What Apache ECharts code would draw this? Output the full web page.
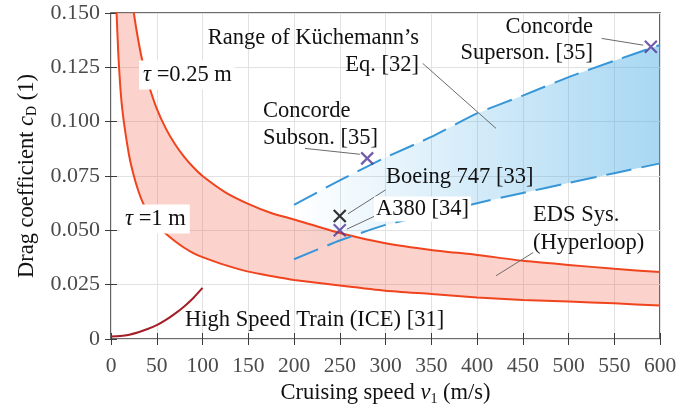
<!DOCTYPE html>
<html>
<head>
<meta charset="utf-8">
<script src="https://cdn.jsdelivr.net/npm/echarts@6/dist/echarts.min.js"></script>
<style>html,body{margin:0;padding:0;background:#fff}#c{width:697px;height:412px}</style>
</head>
<body>
<div id="c"></div>
<script>
// ---- data ----
var vRed = [5, 6, 8, 10, 12, 15, 20, 25, 30, 35, 40, 50, 60, 70, 80, 90, 100, 125, 150, 175, 200, 250, 300, 350, 400, 450, 500, 550, 600];
var edsUpper = [0.335, 0.306, 0.265, 0.237, 0.216, 0.194, 0.168, 0.150, 0.137, 0.1265, 0.1185, 0.106, 0.0968, 0.0896, 0.0838, 0.079, 0.075, 0.0675, 0.0622, 0.0580, 0.0550, 0.0488, 0.0441, 0.0410, 0.0387, 0.0360, 0.0341, 0.0323, 0.0308];
var edsLower = [0.165, 0.151, 0.131, 0.117, 0.107, 0.097, 0.084, 0.075, 0.068, 0.0625, 0.0585, 0.0525, 0.0484, 0.0450, 0.0420, 0.0395, 0.0377, 0.0340, 0.0310, 0.0290, 0.0272, 0.0246, 0.0222, 0.0207, 0.0191, 0.0180, 0.0172, 0.0164, 0.0154];

var vBlue = [200, 250, 300, 350, 400, 450, 500, 550, 600];
var kuechUpper = [0.0617, 0.0730, 0.0835, 0.0930, 0.1038, 0.1120, 0.1205, 0.1280, 0.1353];
var kuechLower = [0.0367, 0.0453, 0.0525, 0.0573, 0.0625, 0.0672, 0.0718, 0.0763, 0.0808];

var vIce = [0, 10, 20, 30, 40, 50, 60, 70, 80, 90, 100];
var iceCd = [0.0012, 0.0014, 0.0020, 0.0031, 0.0046, 0.0064, 0.0088, 0.0117, 0.0150, 0.0189, 0.0235];

var purplePts = [[250, 0.050], [280, 0.0831], [590, 0.1345]];
var blackPts = [[250, 0.0566]];

var leaders = [
  [[212, 0.0877], [272, 0.0850]],
  [[300, 0.0686], [259, 0.0576]],
  [[288.5, 0.0566], [257.6, 0.0505]],
  [[340.7, 0.1268], [420.8, 0.0969]],
  [[536.3, 0.1383], [581.7, 0.1352]],
  [[461.5, 0.0398], [420.8, 0.0291]]
];

var xTickLabels = ['0','50','100','150','200','250','300','350','400','450','500','550','600'];
var yTickLabels = ['0','0.025','0.050','0.075','0.100','0.125','0.150'];

// ---- helpers ----
function pairs(xs, ys) { return xs.map(function (x, i) { return [x, ys[i]]; }); }

var FONT = 'Liberation Serif';
var RED = '#f0441e';
var BLUE = '#3796d7';
var crossPath = 'path://M0,0L10,10M10,0L0,10';

var chart = echarts.init(document.getElementById('c'), null, {renderer: 'canvas'});

var tickStyle = {inside: true, length: 6, lineStyle: {color: '#3c3c3c', width: 1}};

function bandRenderer(xs, hi, lo, fill) {
  return function (params, api) {
    var pts = [], i;
    for (i = 0; i < xs.length; i++) pts.push(api.coord([xs[i], hi[i]]));
    for (i = xs.length - 1; i >= 0; i--) pts.push(api.coord([xs[i], lo[i]]));
    return {type: 'polygon', shape: {points: pts}, style: {fill: fill}};
  };
}

function txt(text, x, y, align, extra) {
  var st = {text: text, x: 0, y: 0, font: '22.5px "' + FONT + '"', fill: '#111',
    align: align, textAlign: align, verticalAlign: 'middle', textVerticalAlign: 'middle',
    rich: {i: {fontStyle: 'italic', fontSize: 22.5, fontFamily: FONT, fill: '#111'}}};
  if (extra) for (var k in extra) st[k] = extra[k];
  return {type: 'text', x: x, y: y, z: 100, style: st};
}

var nameRich = {
  i: {fontStyle: 'italic', fontFamily: FONT, fontSize: 22.5, color: '#111'},
  s: {fontFamily: FONT, fontSize: 14, color: '#111', padding: [11, 0, 0, 0]}
};

var option = {
  animation: false,
  grid: {left: 111, right: 37, top: 13, bottom: 73, show: true, borderColor: '#3c3c3c', borderWidth: 1.6, backgroundColor: 'transparent'},
  xAxis: [{
    type: 'value', min: 0, max: 600, interval: 50,
    axisLine: {show: false}, axisTick: tickStyle,
    splitLine: {show: true, lineStyle: {color: '#e2e2e2', width: 1}},
    axisLabel: {color: '#4a4a4a', fontFamily: FONT, fontSize: 21.5, margin: 16,
      formatter: function (v) { return xTickLabels[Math.round(v / 50)]; }},
    name: 'Cruising speed {i|v}{s|1} (m/s)', nameLocation: 'middle', nameGap: 42,
    nameTextStyle: {color: '#111', fontFamily: FONT, fontSize: 22.5, rich: nameRich}
  }, {
    type: 'value', min: 0, max: 600, interval: 50, position: 'top',
    axisLine: {show: false}, axisTick: tickStyle, axisLabel: {show: false}, splitLine: {show: false}
  }],
  yAxis: [{
    type: 'value', min: 0, max: 0.15, interval: 0.025,
    axisLine: {show: false}, axisTick: tickStyle,
    splitLine: {show: true, lineStyle: {color: '#e2e2e2', width: 1}},
    axisLabel: {color: '#4a4a4a', fontFamily: FONT, fontSize: 22, margin: 11,
      formatter: function (v) { return yTickLabels[Math.round(v / 0.025)]; }},
    name: 'Drag coefficient {i|c}{s|D} (1)', nameLocation: 'middle', nameGap: 67,
    nameTextStyle: {color: '#111', fontFamily: FONT, fontSize: 22.5, rich: nameRich}
  }, {
    type: 'value', min: 0, max: 0.15, interval: 0.025, position: 'right',
    axisLine: {show: false}, axisTick: tickStyle, axisLabel: {show: false}, splitLine: {show: false}
  }],
  series: [
    {type: 'custom', clip: true, silent: true, z: 1, data: [[vRed[0], edsUpper[0]]],
      renderItem: bandRenderer(vRed, edsUpper, edsLower, 'rgba(245,80,50,0.25)')},
    {type: 'custom', clip: true, silent: true, z: 1, data: [[vBlue[0], kuechUpper[0]]],
      renderItem: bandRenderer(vBlue, kuechUpper, kuechLower,
        new echarts.graphic.LinearGradient(0, 0, 1, 0, [
          {offset: 0, color: 'rgba(71,171,229,0.0)'}, {offset: 1, color: 'rgba(71,171,229,0.47)'}]))},

    {type: 'line', data: pairs(vRed, edsUpper), symbol: 'none', smooth: 0.2,
      lineStyle: {color: RED, width: 2}, z: 3},
    {type: 'line', data: pairs(vRed, edsLower), symbol: 'none', smooth: 0.2,
      lineStyle: {color: RED, width: 2}, z: 3},
    {type: 'line', data: pairs(vBlue, kuechUpper), symbol: 'none', smooth: 0.2,
      lineStyle: {color: BLUE, width: 2, type: [26, 10]}, z: 3},
    {type: 'line', data: pairs(vBlue, kuechLower), symbol: 'none', smooth: 0.2,
      lineStyle: {color: BLUE, width: 2, type: [26, 10]}, z: 3},
    {type: 'line', data: pairs(vIce, iceCd), symbol: 'none', smooth: 0.3,
      lineStyle: {color: '#a51d26', width: 2}, z: 3},

    {type: 'lines', coordinateSystem: 'cartesian2d', polyline: false, silent: true, z: 4,
      lineStyle: {color: '#6a6a6a', width: 1, opacity: 1},
      data: leaders.map(function (c) { return {coords: c}; })},

    {type: 'scatter', data: purplePts, symbol: crossPath, symbolSize: 12, z: 5,
      itemStyle: {color: 'rgba(0,0,0,0)', borderColor: '#4f3396', borderWidth: 2.2}},
    {type: 'scatter', data: blackPts, symbol: crossPath, symbolSize: 12, z: 5,
      itemStyle: {color: 'rgba(0,0,0,0)', borderColor: '#000', borderWidth: 2.2}}
  ],
  graphic: [
    txt('Range of Küchemann’s', 419, 38, 'right'),
    txt('Eq. [32]', 419, 65, 'right'),
    txt('Concorde', 593, 27, 'right'),
    txt('Superson. [35]', 593, 53, 'right'),
    txt('Concorde', 263, 111, 'left'),
    txt('Subson. [35]', 263, 138, 'left'),
    txt('Boeing 747 [33]', 386, 177, 'left'),
    txt('A380 [34]', 374, 209, 'left', {backgroundColor: '#fff', padding: [1, 2, 1, 2]}),
    txt('{i|τ} =0.25 m', 139, 75, 'left', {backgroundColor: '#fff', padding: [3, 3, 3, 4]}),
    txt('{i|τ} =1 m', 120, 219, 'left', {backgroundColor: '#fff', padding: [3, 4, 3, 5]}),
    txt('High Speed Train (ICE) [31]', 185, 320, 'left'),
    txt('EDS Sys.', 533, 215, 'left'),
    txt('(Hyperloop)', 533, 243, 'left')
  ]
};
chart.setOption(option);
</script>
</body>
</html>
